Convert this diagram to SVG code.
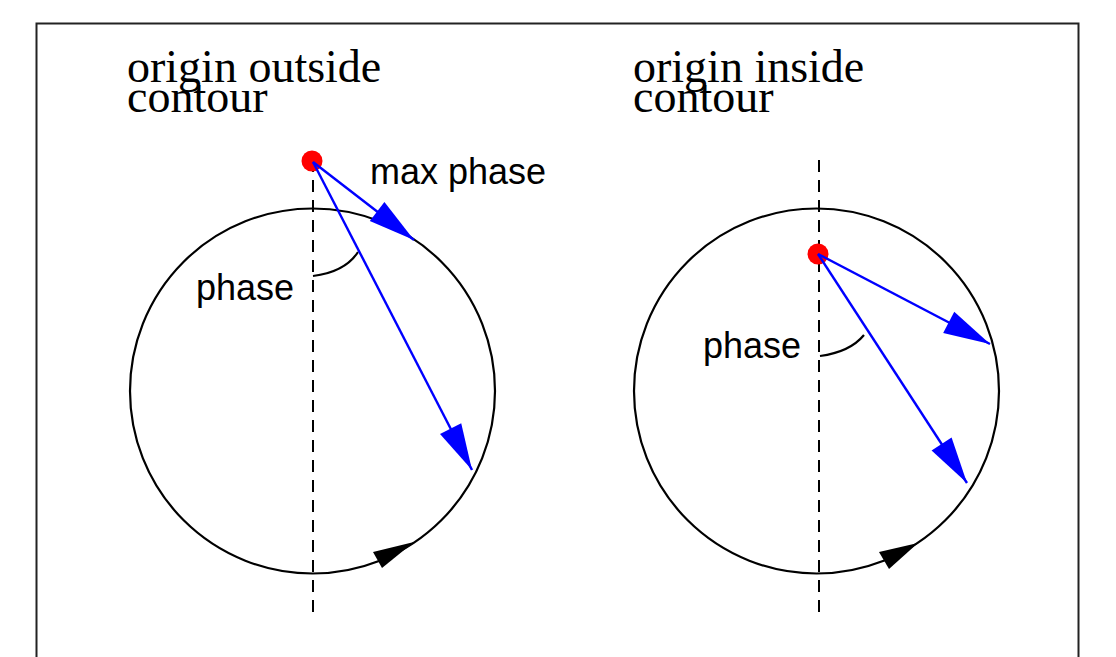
<svg xmlns="http://www.w3.org/2000/svg" width="1116" height="657" viewBox="0 0 1116 657">
<style>
.serif{font-family:"Liberation Serif",serif;font-size:46px;fill:#000}
.sans{font-family:"Liberation Sans",sans-serif;font-size:36px;fill:#000}
.circ{fill:none;stroke:#000;stroke-width:2.2}
.dash{stroke:#000;stroke-width:2;stroke-dasharray:12,8;fill:none}
.vec{stroke:#0000ff;stroke-width:2.4;fill:none}
.arc{stroke:#000;stroke-width:2.2;fill:none}
.dot{fill:#ff0000}
.head{fill:#000}
</style>
<defs>
<marker id="blue" markerUnits="userSpaceOnUse" markerWidth="50" markerHeight="30" viewBox="-42 -12 44 24" refX="0" refY="0" orient="auto">
<path d="M0,0 L-41,-10.5 L-41,10.5 Z" fill="#0000ff"/>
</marker>
</defs>
<rect x="36.5" y="23.5" width="1042" height="700" fill="#fff" stroke="#222" stroke-width="2"/>
<g id="left-panel">
<g id="left-title"><text class="serif" x="127" y="82">origin outside</text><text class="serif" x="127" y="112">contour</text></g>
<g id="left-circle"><circle class="circ" cx="312.5" cy="391" r="182.5"/><polygon class="head" points="414,542 373,552 382,568"/></g>
<g id="left-axis"><line class="dash" x1="313" y1="160" x2="313" y2="618"/></g>
<g id="left-origin"><circle class="dot" cx="312" cy="161" r="10.5"/></g>
<g id="left-phase"><path class="arc" d="M313,276 Q345,272 358,252"/><text class="sans" x="196" y="300">phase</text></g>
<g id="left-maxphase"><text class="sans" x="370" y="184">max phase</text></g>
</g>
<g id="right-panel">
<g id="right-title"><text class="serif" x="633" y="82">origin inside</text><text class="serif" x="633" y="112">contour</text></g>
<g id="right-circle"><circle class="circ" cx="816.5" cy="391" r="182.5"/><polygon class="head" points="918,543 879,552 889,569"/></g>
<g id="right-axis"><line class="dash" x1="819" y1="160" x2="819" y2="618"/></g>
<g id="right-origin"><circle class="dot" cx="818" cy="254" r="10.5"/></g>
<g id="right-phase"><path class="arc" d="M820,356 Q850,352 864,335"/><text class="sans" x="703" y="358">phase</text></g>
</g>
<g id="connectors">
<line class="vec" x1="313" y1="162" x2="414" y2="240" marker-end="url(#blue)"/>
<line class="vec" x1="313" y1="162" x2="472" y2="470" marker-end="url(#blue)"/>
<line class="vec" x1="818" y1="254" x2="990" y2="344" marker-end="url(#blue)"/>
<line class="vec" x1="818" y1="254" x2="967" y2="483" marker-end="url(#blue)"/>
</g>
</svg>
